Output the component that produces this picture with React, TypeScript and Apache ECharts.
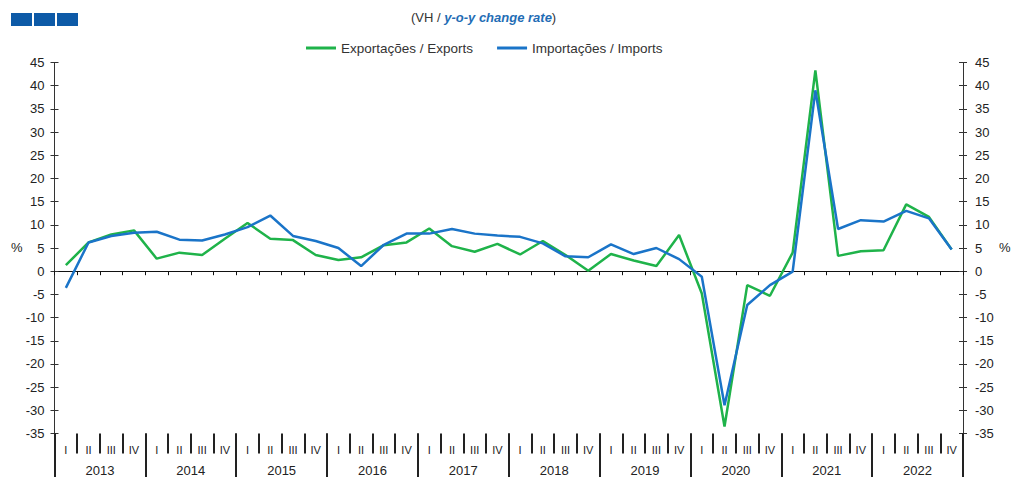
import React, { useEffect, useRef } from "react";
import * as echarts from "echarts";

const years = ["2013", "2014", "2015", "2016", "2017", "2018", "2019", "2020", "2021", "2022"];
const quarters = ["I", "II", "III", "IV"];

const exportsYoY = [
  1.3, 6.2, 7.9, 8.8,
  2.7, 4.0, 3.5, 7.0,
  10.4, 7.0, 6.7, 3.5,
  2.4, 3.0, 5.6, 6.2,
  9.2, 5.4, 4.2, 5.9,
  3.6, 6.5, 3.5, 0.1,
  3.7, 2.3, 1.1, 7.8,
  -4.8, -33.5, -3.0, -5.3,
  4.0, 43.3, 3.3, 4.3,
  4.5, 14.4, 11.7, 4.7,
];

const importsYoY = [
  -3.6, 6.2, 7.6, 8.3,
  8.5, 6.8, 6.6, 7.9,
  9.5, 12.0, 7.6, 6.5,
  5.0, 1.1, 5.7, 8.1,
  8.1, 9.1, 8.1, 7.7,
  7.4, 6.0, 3.2, 3.0,
  5.8, 3.7, 5.0, 2.6,
  -1.2, -28.9, -7.3, -3.0,
  -0.1, 39.0, 9.1, 11.0,
  10.7, 13.0, 11.4, 4.7,
];

const quarterKeys: string[] = [];
years.forEach((y) => quarters.forEach((q) => quarterKeys.push(y + "|" + q)));

const GREEN = "#1fb34a";
const BLUE = "#1a74c8";
const AXIS = "#333";
const FONT = "Liberation Sans, Arial, sans-serif";

export default function App() {
  const ref = useRef<HTMLDivElement>(null);
  useEffect(() => {
    if (!ref.current) return;
    const chart = echarts.init(ref.current, undefined, { renderer: "svg" });
    const yCommon = {
      type: "value",
      min: -35,
      max: 45,
      interval: 5,
      splitLine: { show: false },
      axisLine: { show: true, lineStyle: { color: AXIS, width: 1 } },
    };
    chart.setOption({
      animation: false,
      textStyle: { fontFamily: FONT },
      title: {
        text: "{a|(VH / }{b|y-o-y change rate}{a|)}",
        left: 406,
        top: 6,
        textStyle: {
          fontWeight: "normal",
          rich: {
            a: { fontSize: 13, color: "#333", fontWeight: "normal", fontFamily: FONT },
            b: { fontSize: 13, color: "#1f6db5", fontStyle: "italic", fontWeight: "bold", fontFamily: FONT },
          },
        },
      },
      legend: {
        left: 301,
        top: 36,
        icon: "rect",
        itemWidth: 30,
        itemHeight: 3,
        itemGap: 24,
        textStyle: { fontSize: 13.5, color: "#333", fontFamily: FONT },
        data: ["Exportações / Exports", "Importações / Imports"],
      },
      grid: { left: 54.5, right: 48, top: 62.5, bottom: 43.5, containLabel: false },
      xAxis: [
        {
          type: "category",
          data: quarterKeys,
          boundaryGap: true,
          position: "bottom",
          axisLine: { show: true, onZero: true, lineStyle: { color: "#111", width: 1 } },
          axisTick: { show: true, length: 4, alignWithLabel: false, interval: 0, lineStyle: { color: "#111" } },
          axisLabel: { show: false },
          splitLine: { show: false },
        },
        {
          type: "category",
          data: quarterKeys,
          boundaryGap: true,
          position: "bottom",
          axisLine: { show: false, onZero: false },
          axisTick: { show: true, length: 20, alignWithLabel: false, interval: 0, lineStyle: { color: "#222", width: 2 } },
          axisLabel: {
            show: true,
            interval: 0,
            margin: 11,
            fontSize: 11,
            color: "#222",
            fontFamily: FONT,
            formatter: (v: string) => v.split("|")[1],
          },
          splitLine: { show: false },
        },
        {
          type: "category",
          data: years,
          boundaryGap: true,
          position: "bottom",
          axisLine: { show: false, onZero: false },
          axisTick: { show: true, length: 45, alignWithLabel: false, interval: 0, lineStyle: { color: "#222", width: 2 } },
          axisLabel: { show: true, interval: 0, margin: 30, fontSize: 13, color: "#222", fontFamily: FONT },
          splitLine: { show: false },
        },
      ],
      yAxis: [
        {
          ...yCommon,
          position: "left",
          axisTick: { show: true, length: 4, inside: false, lineStyle: { color: AXIS } },
          axisLabel: { show: true, margin: 10, fontSize: 13, color: "#222", fontFamily: FONT },
        },
        {
          ...yCommon,
          position: "left",
          axisTick: { show: true, length: 4, inside: true, lineStyle: { color: AXIS } },
          axisLabel: { show: false },
        },
        {
          ...yCommon,
          position: "right",
          axisTick: { show: true, length: 4, inside: false, lineStyle: { color: AXIS } },
          axisLabel: { show: true, margin: 12, fontSize: 13, color: "#222", fontFamily: FONT },
        },
        {
          ...yCommon,
          position: "right",
          axisTick: { show: true, length: 4, inside: true, lineStyle: { color: AXIS } },
          axisLabel: { show: false },
        },
      ],
      graphic: [
        { type: "rect", shape: { x: 11, y: 13, width: 21, height: 13 }, style: { fill: "#0d5aa7" } },
        { type: "rect", shape: { x: 34, y: 13, width: 21, height: 13 }, style: { fill: "#0d5aa7" } },
        { type: "rect", shape: { x: 57, y: 13, width: 21, height: 13 }, style: { fill: "#0d5aa7" } },
        {
          type: "text",
          left: 11,
          top: 241,
          style: { text: "%", fontSize: 13, fill: "#222", fontFamily: FONT },
        },
        {
          type: "text",
          left: 999,
          top: 241,
          style: { text: "%", fontSize: 13, fill: "#222", fontFamily: FONT },
        },
      ],
      series: [
        {
          name: "Exportações / Exports",
          type: "line",
          xAxisIndex: 0,
          yAxisIndex: 0,
          data: exportsYoY,
          symbol: "none",
          lineStyle: { color: GREEN, width: 2.5 },
          itemStyle: { color: GREEN },
          z: 3,
        },
        {
          name: "Importações / Imports",
          type: "line",
          xAxisIndex: 0,
          yAxisIndex: 0,
          data: importsYoY,
          symbol: "none",
          lineStyle: { color: BLUE, width: 2.5 },
          itemStyle: { color: BLUE },
          z: 4,
        },
      ],
    });
    return () => chart.dispose();
  }, []);
  return (
    <div
      ref={ref}
      style={{ position: "absolute", left: 0, top: 0, width: 1011, height: 477, background: "#fff" }}
    />
  );
}
